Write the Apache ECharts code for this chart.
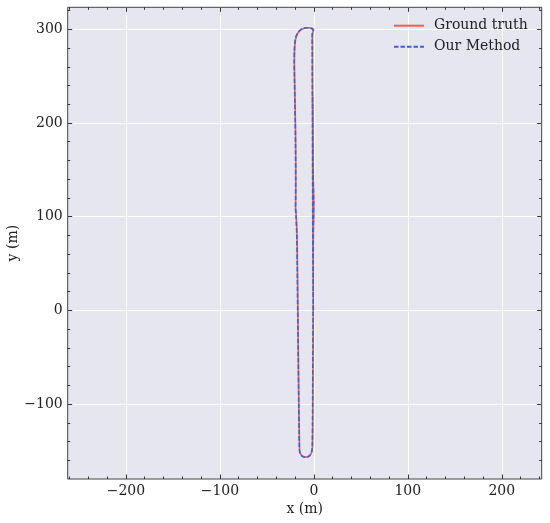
<!DOCTYPE html>
<html>
<head>
<meta charset="utf-8">
<script src="https://cdn.jsdelivr.net/npm/echarts@6/dist/echarts.min.js"></script>
<style>
  html, body { margin: 0; padding: 0; background: #fff; }
  #chart { width: 550px; height: 523px; }
</style>
</head>
<body>
<div id="chart"></div>
<script>
// 轨迹数据 (m)
const seriesNames = ["Ground truth", "Our Method"];

const gtX = [-0.5, -0.8, -1, -1.2, -1.3, -1.5, -1.5, -1.5, -1.4, -0.8, -0.2, -1, -2.6, -5, -8, -11, -14, -16.6, -18.6, -19.9, -20.5, -20.7,
  -20.5, -20, -19.6, -19.3, -19.2, -19.3, -19.5, -18.7, -17.9, -17.5, -17, -16.5, -16, -15.5, -15.3,
  -15.2, -14.6, -13.3, -11.3, -8.6, -6, -4, -2.6, -1.8, -1.5,
  -1.2, -1, -0.8, -0.6, -0.5, -0.5, -0.1, 0, -0.3, -0.7, -1, -1.2];
const gtY = [0, 50, 100, 150, 200, 250, 280, 290, 295, 298, 299.5, 300.5, 301.2, 301.6, 301.6, 301, 299.4, 296.6, 292.6, 286.6, 278.5, 265,
  250, 220, 200, 170, 140, 120, 110, 100, 80, 50, 0, -50, -100, -130, -145,
  -148.5, -152, -154.5, -156, -156.5, -156, -154.5, -152, -148.5, -144,
  -120, -80, -40, 0, 40, 80, 100, 115, 130, 150, 200, 230];

const omX = [-0.6, -0.9, -1.2, -1.3, -1.4, -1.6, -1.7, -1.8, -1.7, -1.3, -0.9, -1.4, -3, -5.5, -8.5, -11.5, -14.5, -17, -18.9, -20.1, -20.7, -20.9,
  -20.7, -20.2, -19.8, -19.5, -19.4, -19.4, -19.5, -18.9, -18.2, -17.7, -17.2, -16.6, -16.1, -15.7, -15.5,
  -15.4, -14.8, -13.5, -11.5, -8.7, -6.1, -4.1, -2.7, -1.9, -1.6,
  -1.4, -1.2, -1, -0.8, -0.7, -0.6, -0.4, -0.3, -0.5, -0.9, -1.2, -1.4];
const omY = [0, 50, 100, 150, 200, 250, 280, 290, 295, 298, 299.5, 300.3, 301, 301.4, 301.4, 300.8, 299.2, 296.4, 292.4, 286.4, 278.3, 265,
  250, 220, 200, 170, 140, 120, 110, 100, 80, 50, 0, -50, -100, -130, -145,
  -148.5, -152.1, -154.7, -156.2, -156.7, -156.2, -154.7, -152.1, -148.5, -144,
  -120, -80, -40, 0, 40, 80, 100, 115, 130, 150, 200, 230];

// 刻度
const xMajor = [-200, -100, 0, 100, 200];
const yMajor = [-100, 0, 100, 200, 300];
const xMinor = [-260, -240, -220, -180, -160, -140, -120, -80, -60, -40, -20, 20, 40, 60, 80, 120, 140, 160, 180, 220, 240];
const yMinor = [-160, -140, -120, -80, -60, -40, -20, 20, 40, 60, 80, 120, 140, 160, 180, 220, 240, 260, 280, 320];
const xRange = [-262, 242.5];
const yRange = [-180, 323.5];

const serif = "DejaVu Serif";
const fmt = (v) => String(v).replace("-", "\u2212");

function zip(xs, ys) {
  return xs.map((x, i) => [x, ys[i]]);
}

// 主坐标轴 + 次刻度轴
function makeAxes(dim, range, major, minor) {
  const sides = dim === "x" ? ["bottom", "top"] : ["left", "right"];
  const axes = [];
  sides.forEach((pos, k) => {
    axes.push({
      type: "value",
      position: pos,
      min: range[0],
      max: range[1],
      name: k === 0 ? (dim === "x" ? "x (m)" : "y (m)") : "",
      nameLocation: "middle",
      nameGap: dim === "x" ? 23 : 47,
      nameMoveOverlap: false,
      nameTextStyle: { fontFamily: serif, fontSize: 14, color: "#222" },
      axisLine: { show: false, onZero: false },
      axisTick: { show: true, inside: true, length: 4.5, customValues: major,
        lineStyle: { color: "#333", width: 1 } },
      axisLabel: { show: k === 0, customValues: major, formatter: fmt, margin: 5,
        fontFamily: serif, fontSize: 14, color: "#222" },
      splitLine: { show: k === 0, lineStyle: { color: "#ffffff", width: 1 } },
    });
    axes.push({
      type: "value",
      position: pos,
      min: range[0],
      max: range[1],
      axisLine: { show: false, onZero: false },
      axisTick: { show: true, inside: true, length: 2.5, customValues: minor,
        lineStyle: { color: "#333", width: 1 } },
      axisLabel: { show: false },
      splitLine: { show: false },
    });
  });
  return axes;
}

const chart = echarts.init(document.getElementById("chart"), null, { renderer: "canvas" });
const option = {
  animation: false,
  backgroundColor: "#ffffff",
  grid: {
    left: 67.7,
    right: 8.3,
    top: 7.3,
    bottom: 44,
    outerBoundsMode: "none",
    show: true,
    backgroundColor: "#E6E6F0",
    borderColor: "#444",
    borderWidth: 1,
  },
  legend: {
    data: seriesNames,
    orient: "vertical",
    left: 393,
    top: 18.7,
    padding: 0,
    itemWidth: 30,
    itemHeight: 14,
    itemGap: 7,
    itemStyle: { opacity: 0 },
    textStyle: { fontFamily: serif, fontSize: 14, color: "#222", padding: [0, 0, 0, 5] },
  },
  xAxis: makeAxes("x", xRange, xMajor, xMinor),
  yAxis: makeAxes("y", yRange, yMajor, yMinor),
  series: [
    {
      name: seriesNames[0],
      type: "line",
      data: zip(gtX, gtY),
      symbol: "none",
      smooth: 0.3,
      lineStyle: { color: "#EE5F4F", width: 1.6 },
      itemStyle: { color: "#EE5F4F" },
    },
    {
      name: seriesNames[1],
      type: "line",
      data: zip(omX, omY),
      symbol: "none",
      smooth: 0.3,
      lineStyle: { color: "#3D5FD9", width: 1.6, type: [4.5, 2] },
      itemStyle: { color: "#3D5FD9" },
    },
  ],
};
chart.setOption(option);
</script>
</body>
</html>
